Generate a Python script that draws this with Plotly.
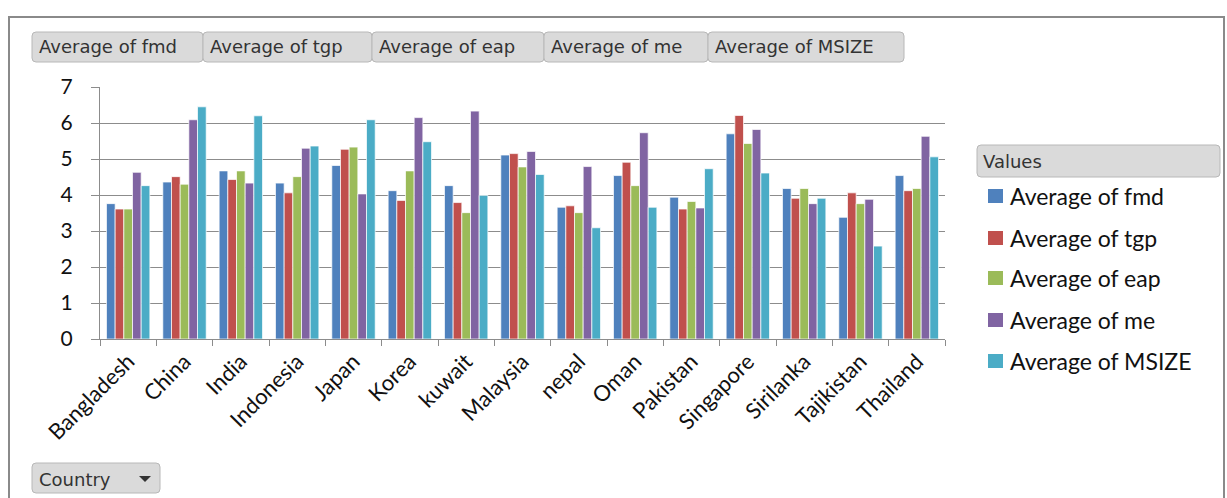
import plotly.graph_objects as go

countries = ["Bangladesh", "China", "India", "Indonesia", "Japan", "Korea", "kuwait",
             "Malaysia", "nepal", "Oman", "Pakistan", "Singapore", "Sirilanka",
             "Tajikistan", "Thailand"]

fmd = [3.76, 4.36, 4.67, 4.33, 4.82, 4.12, 4.26, 5.11, 3.66, 4.54, 3.94, 5.70, 4.18, 3.38, 4.54]
tgp = [3.61, 4.51, 4.43, 4.06, 5.27, 3.85, 3.79, 5.15, 3.70, 4.91, 3.61, 6.21, 3.91, 4.06, 4.12]
eap = [3.61, 4.30, 4.67, 4.51, 5.33, 4.67, 3.51, 4.78, 3.51, 4.26, 3.82, 5.43, 4.18, 3.76, 4.18]
me = [4.63, 6.09, 4.33, 5.30, 4.03, 6.15, 6.33, 5.21, 4.79, 5.73, 3.64, 5.82, 3.76, 3.88, 5.63]
msize = [4.26, 6.45, 6.20, 5.36, 6.09, 5.48, 3.99, 4.57, 3.09, 3.66, 4.73, 4.61, 3.91, 2.58, 5.06]

series_names = ["Average of fmd", "Average of tgp", "Average of eap", "Average of me", "Average of MSIZE"]
series_values = [fmd, tgp, eap, me, msize]
series_colors = ["#4F81BD", "#C0504D", "#9BBB59", "#8064A2", "#4BACC6"]

y_ticks = [0, 1, 2, 3, 4, 5, 6, 7]

W, H = 1227, 498
L, R, T, B = 100, 945, 87, 339  # plot area in pixels


def px(x):
    return (x - L) / (R - L)


def py(y):
    return (B - y) / (B - T)


def rounded_rect(x0, y0, x1, y1, r=4):
    X0, X1 = px(x0), px(x1)
    Y0, Y1 = py(y0), py(y1)
    rx = r / (R - L)
    ry = r / (B - T)
    return (f"M{X0 + rx},{Y0} L{X1 - rx},{Y0} Q{X1},{Y0} {X1},{Y0 - ry} "
            f"L{X1},{Y1 + ry} Q{X1},{Y1} {X1 - rx},{Y1} L{X0 + rx},{Y1} "
            f"Q{X0},{Y1} {X0},{Y1 + ry} L{X0},{Y0 - ry} Q{X0},{Y0} {X0 + rx},{Y0} Z")


fig = go.Figure()
for name, vals, col in zip(series_names, series_values, series_colors):
    fig.add_trace(go.Bar(
        x=countries, y=vals, name=name,
        marker=dict(color=col, line=dict(color="rgba(255,255,255,0.7)", width=1)),
        showlegend=False,
    ))

shapes = []
annotations = []

# outer frame
shapes.append(dict(type="rect", xref="paper", yref="paper",
                   x0=px(9), x1=px(1224), y0=py(17), y1=py(520),
                   line=dict(color="#8a8a8a", width=2), fillcolor="rgba(0,0,0,0)", layer="below"))

btn_font = dict(family="DejaVu Sans", size=18, color="#333333")

# field buttons across the top
buttons = [("Average of fmd", 32, 203), ("Average of tgp", 203, 372),
           ("Average of eap", 372, 544), ("Average of me", 544, 708),
           ("Average of MSIZE", 708, 904)]
for label, bx0, bx1 in buttons:
    shapes.append(dict(type="path", xref="paper", yref="paper",
                       path=rounded_rect(bx0, 32, bx1, 62),
                       fillcolor="#dadada", line=dict(color="#b8b8b8", width=1)))
    annotations.append(dict(x=px(bx0 + 5), y=py(47), xref="paper", yref="paper",
                            text=label, showarrow=False, xanchor="left", yanchor="middle",
                            font=btn_font))

# Country field button with dropdown arrow
shapes.append(dict(type="path", xref="paper", yref="paper",
                   path=rounded_rect(32, 463, 160, 493),
                   fillcolor="#dadada", line=dict(color="#b8b8b8", width=1)))
annotations.append(dict(x=px(37), y=py(479), xref="paper", yref="paper",
                        text="Country", showarrow=False, xanchor="left", yanchor="middle",
                        font=dict(family="DejaVu Sans", size=18, color="#333333")))
shapes.append(dict(type="path", xref="paper", yref="paper",
                   path=f"M{px(139)},{py(476)} L{px(151)},{py(476)} L{px(145)},{py(482)} Z",
                   fillcolor="#333333", line=dict(width=0)))

# legend panel
shapes.append(dict(type="path", xref="paper", yref="paper",
                   path=rounded_rect(977, 145, 1220, 177),
                   fillcolor="#dadada", line=dict(color="#b8b8b8", width=1)))
annotations.append(dict(x=px(981), y=py(161), xref="paper", yref="paper",
                        text="Values", showarrow=False, xanchor="left", yanchor="middle",
                        font=dict(family="DejaVu Sans", size=18, color="#333333")))
legend_y = [196, 238, 278, 320, 361]
for name, col, ly in zip(series_names, series_colors, legend_y):
    shapes.append(dict(type="rect", xref="paper", yref="paper",
                       x0=px(988), x1=px(1003), y0=py(ly - 7), y1=py(ly + 7),
                       fillcolor=col, line=dict(width=0)))
    annotations.append(dict(x=px(1008), y=py(ly), xref="paper", yref="paper",
                            text=name, showarrow=False, xanchor="left", yanchor="middle",
                            font=dict(family="Lato", size=23, color="#111111")))

fig.update_layout(
    width=W, height=H,
    margin=dict(l=L, r=W - R, t=T, b=H - B, pad=0),
    paper_bgcolor="white", plot_bgcolor="white",
    barmode="group", bargap=0.23, bargroupgap=0,
    shapes=shapes, annotations=annotations,
    font=dict(family="Lato", color="#111111"),
)
fig.update_xaxes(
    type="category", tickangle=-45, tickfont=dict(family="Lato", size=22, color="#111111"),
    showline=True, linecolor="#8c8c8c", linewidth=1,
    ticks="outside", tickson="boundaries", ticklen=6, tickcolor="#8c8c8c",
    showgrid=False, fixedrange=True,
)
fig.update_yaxes(
    range=[0, 7], tickvals=y_ticks, ticktext=[str(v) for v in y_ticks],
    tickfont=dict(family="Lato", size=21, color="#111111"),
    showline=True, linecolor="#8c8c8c", linewidth=1,
    ticks="outside", ticklen=8, tickcolor="#8c8c8c", ticklabelstandoff=14,
    showgrid=True, gridcolor="#8c8c8c", gridwidth=1, zeroline=False, fixedrange=True,
)

fig.write_html("out.html")
